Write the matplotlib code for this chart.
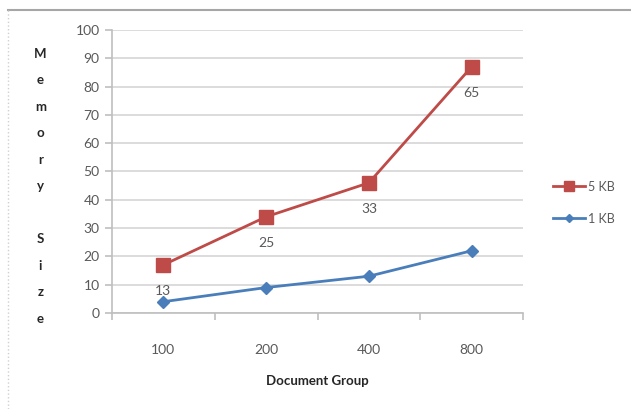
import matplotlib.pyplot as plt
from matplotlib.lines import Line2D

plt.rcParams['font.family'] = ['Lato', 'DejaVu Sans']

# Memory size per document group
groups = ['100', '200', '400', '800']
mem_5kb = [17, 34, 46, 87]
mem_1kb = [4, 9, 13, 22]
point_labels = ['13', '25', '33', '65']

red = '#BE4B48'
blue = '#4A7EBB'
grey_txt = '#595959'

fig = plt.figure(figsize=(6.31, 4.09), dpi=100)
ax = fig.add_axes([0.1775, 0.2347, 0.6514, 0.692])

x = range(len(groups))
ax.plot(x, mem_5kb, color=red, lw=2, marker='s', ms=10, label='5 KB', zorder=3)
ax.plot(x, mem_1kb, color=blue, lw=2, marker='D', ms=6, label='1 KB', zorder=3)

for i, txt in enumerate(point_labels):
    ax.annotate(txt, (i, mem_5kb[i]), xytext=(0, -19), textcoords='offset points',
                ha='center', va='center', fontsize=10, color=grey_txt)

ax.set_xlim(-0.5, len(groups) - 0.5)
ax.set_ylim(0, 100)
ax.set_yticks(range(0, 101, 10))
ax.set_xticks(x)
ax.set_xticklabels(groups)
ax.set_xticks([i - 0.5 for i in range(len(groups) + 1)], minor=True)
ax.tick_params(axis='x', which='major', length=0, pad=22, labelsize=10, labelcolor=grey_txt)
ax.tick_params(axis='x', which='minor', length=5, color='#bfbfbf', width=1.2)
ax.tick_params(axis='y', length=5, color='#bfbfbf', width=1.2, labelsize=10, labelcolor=grey_txt, pad=4)

ax.grid(axis='y', color='#d9d9d9', lw=1.3)
ax.set_axisbelow(True)
for side in ['top', 'right']:
    ax.spines[side].set_visible(False)
for side in ['left', 'bottom']:
    ax.spines[side].set_color('#bfbfbf')
    ax.spines[side].set_linewidth(1.2)

ax.set_xlabel('Document Group', fontsize=9.5, fontweight='bold', color='#262626', labelpad=14)
fig.text(0.064, 0.545, 'M\ne\nm\no\nr\ny\n\nS\ni\nz\ne', ha='center', va='center',
         fontsize=9.5, fontweight='bold', color='#262626', linespacing=2.45)

ax.legend(loc='center left', bbox_to_anchor=(1.045, 0.39), frameon=False,
          fontsize=9, labelcolor=grey_txt, handlelength=2.6, labelspacing=1.6,
          handletextpad=0.2, markerscale=0.75)

# outer chart frame
fig.add_artist(Line2D([0.013, 1], [0.975, 0.975], color='#a6a6a6', lw=1.5))
fig.add_artist(Line2D([0.013, 0.013], [0, 0.975], color='#d0d0d0', lw=1, ls=':'))

fig.savefig('out.png', dpi=100)
